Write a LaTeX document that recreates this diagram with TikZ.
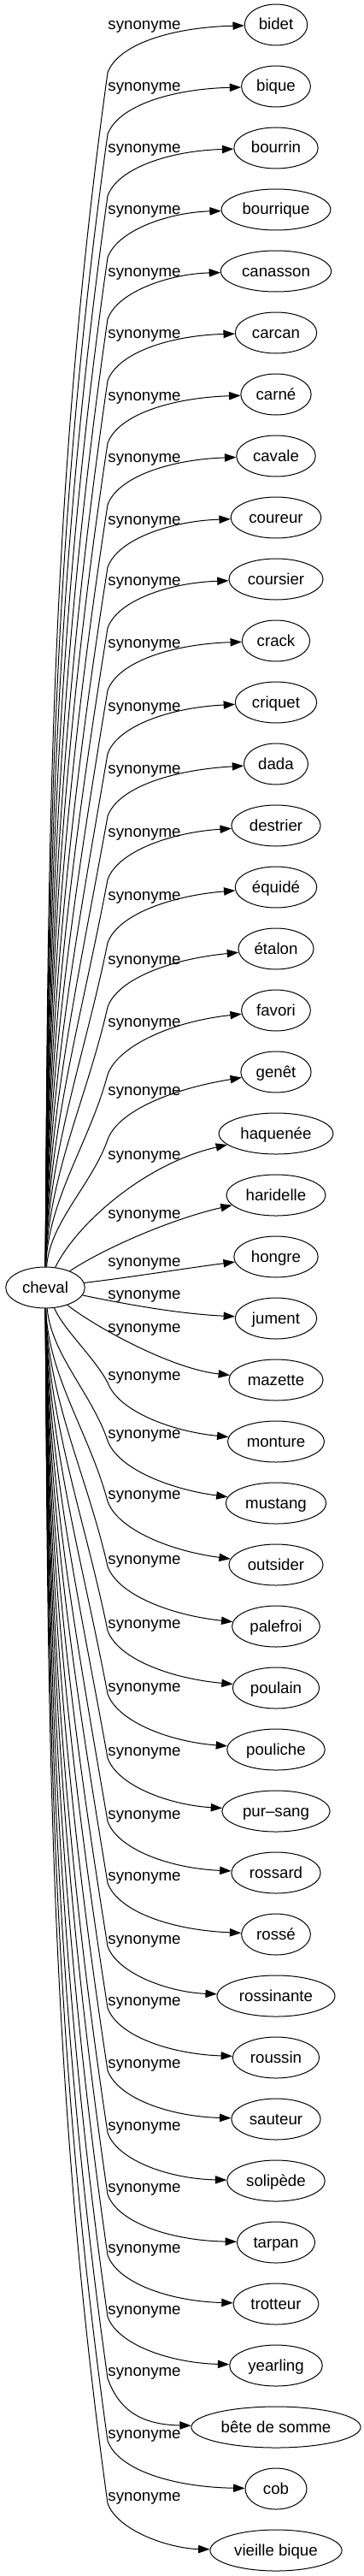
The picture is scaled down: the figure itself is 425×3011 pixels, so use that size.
\documentclass[tikz,border=0pt]{standalone}
\usepackage{fontspec}
\setmainfont{Liberation Sans}
\usetikzlibrary{shapes.geometric,arrows.meta}

\begin{document}
\begin{tikzpicture}[x=0.75pt,y=0.75pt,
	word/.style={draw,ellipse,line width=0.75pt,minimum width=54pt,minimum height=36pt,inner xsep=4.3pt,inner ysep=1pt,text height=10.5pt,text depth=1.5pt,font=\fontsize{14pt}{16pt}\selectfont},
	syn/.style={anchor=base,inner sep=0pt,font=\fontsize{14pt}{16pt}\selectfont},
	link/.style={line width=0.75pt,-{Triangle[length=10pt,width=7pt]}}]
	\useasboundingbox[fill=white] (0,0) rectangle (425,-3011);

	% centre
	\node[word] (cheval) at (53,-1505) {cheval};

	% targets
	\node[word] (bidet) at (323,-29) {bidet};
	\node[word] (bique) at (323,-101) {bique};
	\node[word] (bourrin) at (323,-173) {bourrin};
	\node[word] (bourrique) at (323,-245) {bourrique};
	\node[word] (canasson) at (323,-317) {canasson};
	\node[word] (carcan) at (323,-389) {carcan};
	\node[word] (carne) at (323,-461) {carné};
	\node[word] (cavale) at (323,-533) {cavale};
	\node[word] (coureur) at (323,-605) {coureur};
	\node[word] (coursier) at (323,-677) {coursier};
	\node[word] (crack) at (323,-749) {crack};
	\node[word] (criquet) at (323,-821) {criquet};
	\node[word] (dada) at (323,-893) {dada};
	\node[word] (destrier) at (323,-965) {destrier};
	\node[word] (equide) at (323,-1037) {équidé};
	\node[word] (etalon) at (323,-1109) {étalon};
	\node[word] (favori) at (323,-1181) {favori};
	\node[word] (genet) at (323,-1253) {genêt};
	\node[word] (haquenee) at (323,-1325) {haquenée};
	\node[word] (haridelle) at (323,-1397) {haridelle};
	\node[word] (hongre) at (323,-1469) {hongre};
	\node[word] (jument) at (323,-1541) {jument};
	\node[word] (mazette) at (323,-1613) {mazette};
	\node[word] (monture) at (323,-1685) {monture};
	\node[word] (mustang) at (323,-1757) {mustang};
	\node[word] (outsider) at (323,-1829) {outsider};
	\node[word] (palefroi) at (323,-1901) {palefroi};
	\node[word] (poulain) at (323,-1973) {poulain};
	\node[word] (pouliche) at (323,-2045) {pouliche};
	\node[word] (pursang) at (323,-2117) {pur–sang};
	\node[word] (rossard) at (323,-2189) {rossard};
	\node[word] (rosse) at (323,-2261) {rossé};
	\node[word] (rossinante) at (323,-2333) {rossinante};
	\node[word] (roussin) at (323,-2405) {roussin};
	\node[word] (sauteur) at (323,-2477) {sauteur};
	\node[word] (solipede) at (323,-2549) {solipède};
	\node[word] (tarpan) at (323,-2621) {tarpan};
	\node[word] (trotteur) at (323,-2693) {trotteur};
	\node[word] (yearling) at (323,-2765) {yearling};
	\node[word] (betedesomme) at (323,-2837) {bête de somme};
	\node[word] (cob) at (323,-2909) {cob};
	\node[word] (vieillebique) at (323,-2981) {vieille bique};

	% labels
	\node[syn] (syn-bidet) at (169,-35) {synonyme};
	\node[syn] (syn-bique) at (169,-107) {synonyme};
	\node[syn] (syn-bourrin) at (169,-179) {synonyme};
	\node[syn] (syn-bourrique) at (169,-251) {synonyme};
	\node[syn] (syn-canasson) at (169,-323) {synonyme};
	\node[syn] (syn-carcan) at (169,-395) {synonyme};
	\node[syn] (syn-carne) at (169,-468) {synonyme};
	\node[syn] (syn-cavale) at (169,-540) {synonyme};
	\node[syn] (syn-coureur) at (169,-613) {synonyme};
	\node[syn] (syn-coursier) at (169,-684) {synonyme};
	\node[syn] (syn-crack) at (169,-757) {synonyme};
	\node[syn] (syn-criquet) at (169,-831) {synonyme};
	\node[syn] (syn-dada) at (169,-904) {synonyme};
	\node[syn] (syn-destrier) at (169,-978) {synonyme};
	\node[syn] (syn-equide) at (169,-1052) {synonyme};
	\node[syn] (syn-etalon) at (169,-1127) {synonyme};
	\node[syn] (syn-favori) at (169,-1200) {synonyme};
	\node[syn] (syn-genet) at (169,-1280) {synonyme};
	\node[syn] (syn-haquenee) at (169,-1355) {synonyme};
	\node[syn] (syn-haridelle) at (169,-1424) {synonyme};
	\node[syn] (syn-hongre) at (169,-1480) {synonyme};
	\node[syn] (syn-jument) at (169,-1518) {synonyme};
	\node[syn] (syn-mazette) at (169,-1557) {synonyme};
	\node[syn] (syn-monture) at (169,-1613) {synonyme};
	\node[syn] (syn-mustang) at (169,-1681) {synonyme};
	\node[syn] (syn-outsider) at (169,-1752) {synonyme};
	\node[syn] (syn-palefroi) at (169,-1828) {synonyme};
	\node[syn] (syn-poulain) at (169,-1903) {synonyme};
	\node[syn] (syn-pouliche) at (169,-1977) {synonyme};
	\node[syn] (syn-pursang) at (169,-2052) {synonyme};
	\node[syn] (syn-rossard) at (169,-2126) {synonyme};
	\node[syn] (syn-rosse) at (169,-2198) {synonyme};
	\node[syn] (syn-rossinante) at (169,-2272) {synonyme};
	\node[syn] (syn-roussin) at (169,-2344) {synonyme};
	\node[syn] (syn-sauteur) at (169,-2417) {synonyme};
	\node[syn] (syn-solipede) at (169,-2490) {synonyme};
	\node[syn] (syn-tarpan) at (169,-2562) {synonyme};
	\node[syn] (syn-trotteur) at (169,-2633) {synonyme};
	\node[syn] (syn-yearling) at (169,-2705) {synonyme};
	\node[syn] (syn-betedesomme) at (169,-2777) {synonyme};
	\node[syn] (syn-cob) at (169,-2850) {synonyme};
	\node[syn] (syn-vieillebique) at (169,-2923) {synonyme};

	% edges going up
	\draw[link] (cheval) .. controls (56,-992) and (58,-574) .. (126,-85) .. controls (138,-52) and (200,-32) .. (bidet);
	\draw[link] (cheval) .. controls (56,-1018) and (61,-620) .. (126,-157) .. controls (138,-124) and (200,-104) .. (bique);
	\draw[link] (cheval) .. controls (56,-1043) and (64,-667) .. (126,-229) .. controls (138,-196) and (200,-176) .. (bourrin);
	\draw[link] (cheval) .. controls (56,-1068) and (67,-714) .. (126,-301) .. controls (138,-268) and (200,-248) .. (bourrique);
	\draw[link] (cheval) .. controls (56,-1093) and (70,-761) .. (126,-373) .. controls (138,-340) and (200,-320) .. (canasson);
	\draw[link] (cheval) .. controls (56,-1118) and (73,-808) .. (126,-445) .. controls (138,-412) and (200,-392) .. (carcan);
	\draw[link] (cheval) .. controls (56,-1144) and (75,-855) .. (126,-518) .. controls (138,-485) and (200,-465) .. (carne);
	\draw[link] (cheval) .. controls (56,-1169) and (78,-902) .. (126,-590) .. controls (138,-557) and (200,-537) .. (cavale);
	\draw[link] (cheval) .. controls (56,-1195) and (81,-949) .. (126,-663) .. controls (138,-630) and (200,-609) .. (coureur);
	\draw[link] (cheval) .. controls (56,-1220) and (84,-995) .. (126,-734) .. controls (138,-701) and (200,-681) .. (coursier);
	\draw[link] (cheval) .. controls (56,-1245) and (87,-1043) .. (126,-807) .. controls (138,-774) and (200,-753) .. (crack);
	\draw[link] (cheval) .. controls (56,-1271) and (90,-1091) .. (126,-881) .. controls (138,-848) and (200,-827) .. (criquet);
	\draw[link] (cheval) .. controls (56,-1297) and (93,-1138) .. (126,-954) .. controls (138,-921) and (200,-900) .. (dada);
	\draw[link] (cheval) .. controls (56,-1322) and (96,-1187) .. (126,-1028) .. controls (138,-995) and (200,-973) .. (destrier);
	\draw[link] (cheval) .. controls (56,-1348) and (99,-1235) .. (126,-1102) .. controls (138,-1069) and (200,-1047) .. (equide);
	\draw[link] (cheval) .. controls (56,-1375) and (102,-1283) .. (126,-1177) .. controls (138,-1144) and (200,-1121) .. (etalon);
	\draw[link] (cheval) .. controls (56,-1402) and (105,-1335) .. (126,-1256) .. controls (138,-1223) and (200,-1194) .. (favori);
	\draw[link] (cheval) .. controls (58,-1429) and (108,-1384) .. (126,-1332) .. controls (138,-1299) and (200,-1273) .. (genet);
	\draw[link] (cheval) .. controls (90,-1430) and (170,-1360) .. (haquenee);
	\draw[link] (cheval) .. controls (120,-1460) and (200,-1425) .. (haridelle);
	\draw[link] (cheval) .. controls (160,-1492) and (220,-1482) .. (hongre);

	% edges going down
	\draw[link] (cheval) .. controls (160,-1527) and (215,-1536) .. (jument);
	\draw[link] (cheval) .. controls (110,-1550) and (200,-1600) .. (mazette);
	\draw[link] (cheval) .. controls (75,-1555) and (110,-1586) .. (126,-1616) .. controls (138,-1649) and (200,-1673) .. (monture);
	\draw[link] (cheval) .. controls (60,-1583) and (108,-1630) .. (126,-1684) .. controls (138,-1717) and (200,-1741) .. (mustang);
	\draw[link] (cheval) .. controls (56,-1608) and (105,-1676) .. (126,-1755) .. controls (138,-1788) and (200,-1813) .. (outsider);
	\draw[link] (cheval) .. controls (56,-1635) and (102,-1725) .. (126,-1831) .. controls (138,-1864) and (200,-1888) .. (palefroi);
	\draw[link] (cheval) .. controls (56,-1661) and (99,-1774) .. (126,-1906) .. controls (138,-1939) and (200,-1962) .. (poulain);
	\draw[link] (cheval) .. controls (56,-1687) and (96,-1822) .. (126,-1980) .. controls (138,-2013) and (200,-2036) .. (pouliche);
	\draw[link] (cheval) .. controls (56,-1713) and (93,-1871) .. (126,-2055) .. controls (138,-2088) and (200,-2110) .. (pursang);
	\draw[link] (cheval) .. controls (56,-1739) and (90,-1919) .. (126,-2129) .. controls (138,-2162) and (200,-2184) .. (rossard);
	\draw[link] (cheval) .. controls (56,-1764) and (87,-1966) .. (126,-2201) .. controls (138,-2234) and (200,-2256) .. (rosse);
	\draw[link] (cheval) .. controls (56,-1790) and (84,-2014) .. (126,-2275) .. controls (138,-2308) and (200,-2329) .. (rossinante);
	\draw[link] (cheval) .. controls (56,-1815) and (81,-2061) .. (126,-2347) .. controls (138,-2380) and (200,-2401) .. (roussin);
	\draw[link] (cheval) .. controls (56,-1841) and (78,-2108) .. (126,-2420) .. controls (138,-2453) and (200,-2474) .. (sauteur);
	\draw[link] (cheval) .. controls (56,-1866) and (75,-2156) .. (126,-2493) .. controls (138,-2526) and (200,-2547) .. (solipede);
	\draw[link] (cheval) .. controls (56,-1892) and (73,-2202) .. (126,-2565) .. controls (138,-2598) and (200,-2619) .. (tarpan);
	\draw[link] (cheval) .. controls (56,-1916) and (70,-2249) .. (126,-2636) .. controls (138,-2669) and (200,-2690) .. (trotteur);
	\draw[link] (cheval) .. controls (56,-1942) and (67,-2295) .. (126,-2708) .. controls (138,-2741) and (200,-2762) .. (yearling);
	\draw[link] (cheval) .. controls (56,-1967) and (64,-2342) .. (126,-2780) .. controls (138,-2813) and (160,-2834) .. (betedesomme);
	\draw[link] (cheval) .. controls (56,-1992) and (61,-2390) .. (126,-2853) .. controls (138,-2886) and (200,-2907) .. (cob);
	\draw[link] (cheval) .. controls (56,-2018) and (58,-2437) .. (126,-2926) .. controls (138,-2959) and (200,-2979) .. (vieillebique);
\end{tikzpicture}
\end{document}
